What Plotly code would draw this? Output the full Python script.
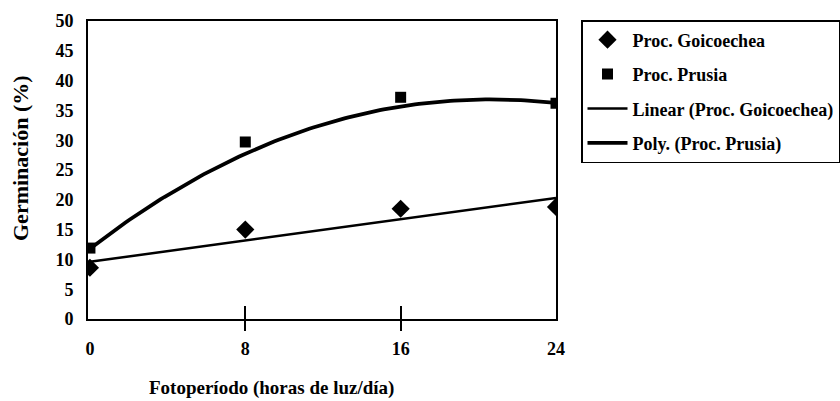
import numpy as np
import plotly.graph_objects as go

# Data
horas = [0, 8, 16, 24]
goicoechea = [8.6, 15.0, 18.5, 18.8]
prusia = [11.9, 29.7, 37.2, 36.2]
x_ticks = [0, 8, 16, 24]
y_ticks = [0, 5, 10, 15, 20, 25, 30, 35, 40, 45, 50]

# Trendlines as drawn in the reference
lin_x = [0, 24]
lin_y = [9.6, 20.3]
poly_x = [0, 4, 8, 12, 16, 20, 24]
poly_y = [11.9, 20.5, 28.0, 32.6, 35.7, 36.7, 36.3]

# smooth curve through the read trendline points
coef = np.polyfit(poly_x, poly_y, 3)
xs = np.linspace(min(poly_x), max(poly_x), 120)
ys = np.polyval(coef, xs)

FONT = "Liberation Serif, Times New Roman, serif"

fig = go.Figure()
fig.add_trace(go.Scatter(x=horas, y=goicoechea, mode="markers", name="Proc. Goicoechea",
                         legendgroup="a",
                         marker=dict(symbol="diamond", size=14, color="black")))
fig.add_trace(go.Scatter(x=horas, y=prusia, mode="markers", name="Proc. Prusia",
                         legendgroup="b",
                         marker=dict(symbol="square", size=11, color="black")))
fig.add_trace(go.Scatter(x=lin_x, y=lin_y, mode="lines",
                         name="Linear (Proc. Goicoechea)", legendgroup="c",
                         line=dict(color="black", width=2.5)))
fig.add_trace(go.Scatter(x=xs, y=ys, mode="lines",
                         name="Poly. (Proc. Prusia)", legendgroup="d",
                         line=dict(color="black", width=3.8)))
# invisible traces to carry tick-only axes
fig.add_trace(go.Scatter(x=[0, 24], y=[0, 0], xaxis="x2", mode="markers",
                         marker=dict(opacity=0), showlegend=False, hoverinfo="skip"))
fig.add_trace(go.Scatter(x=[0, 24], y=[0, 0], xaxis="x3", mode="markers",
                         marker=dict(opacity=0), showlegend=False, hoverinfo="skip"))

xr = [-0.1, 24]
L, R, T, B = 88, 284, 21, 82
PW, PH = 840 - L - R, 401 - T - B
fig.update_layout(
    width=840, height=401,
    margin=dict(l=L, r=R, t=T, b=B),
    paper_bgcolor="white", plot_bgcolor="white",
    font=dict(family=FONT, size=18, color="black", weight="bold"),
    xaxis=dict(range=xr, tickvals=x_ticks, ticktext=[str(v) for v in x_ticks],
               ticks="", showgrid=False, zeroline=False,
               showline=True, linecolor="black", linewidth=2, mirror=True,
               tickfont=dict(family=FONT, size=18), ticklabelstandoff=12),
    xaxis2=dict(range=xr, overlaying="x", tickvals=[8, 16], ticks="outside",
                ticklen=11, tickwidth=2, tickcolor="black", showticklabels=False,
                showgrid=False, zeroline=False, showline=False, side="bottom"),
    xaxis3=dict(range=xr, overlaying="x", tickvals=[8, 16], ticks="inside",
                ticklen=13, tickwidth=2, tickcolor="black", showticklabels=False,
                showgrid=False, zeroline=False, showline=False, side="bottom"),
    yaxis=dict(range=[0, 50], tickvals=y_ticks, ticks="", showgrid=False,
               zeroline=False, showline=True, linecolor="black", linewidth=2,
               mirror=True, tickfont=dict(family=FONT, size=18), ticklabelstandoff=9),
    legend=dict(x=581 / 840, xanchor="left", y=1 - 20 / 401, yanchor="top",
                xref="container", yref="container",
                bordercolor="black", borderwidth=1.5, bgcolor="white",
                font=dict(family=FONT, size=18, weight="bold"),
                traceorder="grouped", tracegroupgap=8, itemwidth=40),
    showlegend=True,
    annotations=[
        dict(text="Fotoperíodo (horas de luz/día)", xref="paper", yref="paper",
             x=(271 - L) / PW, y=-(388 - (401 - B)) / PH,
             xanchor="center", yanchor="middle",
             showarrow=False, font=dict(family=FONT, size=19)),
        dict(text="Germinación (%)", xref="paper", yref="paper",
             x=-(L - 21) / PW, y=(401 - B - 158) / PH, textangle=-90,
             xanchor="center", yanchor="middle",
             showarrow=False, font=dict(family=FONT, size=22)),
    ],
)

fig.write_html("out.html")
